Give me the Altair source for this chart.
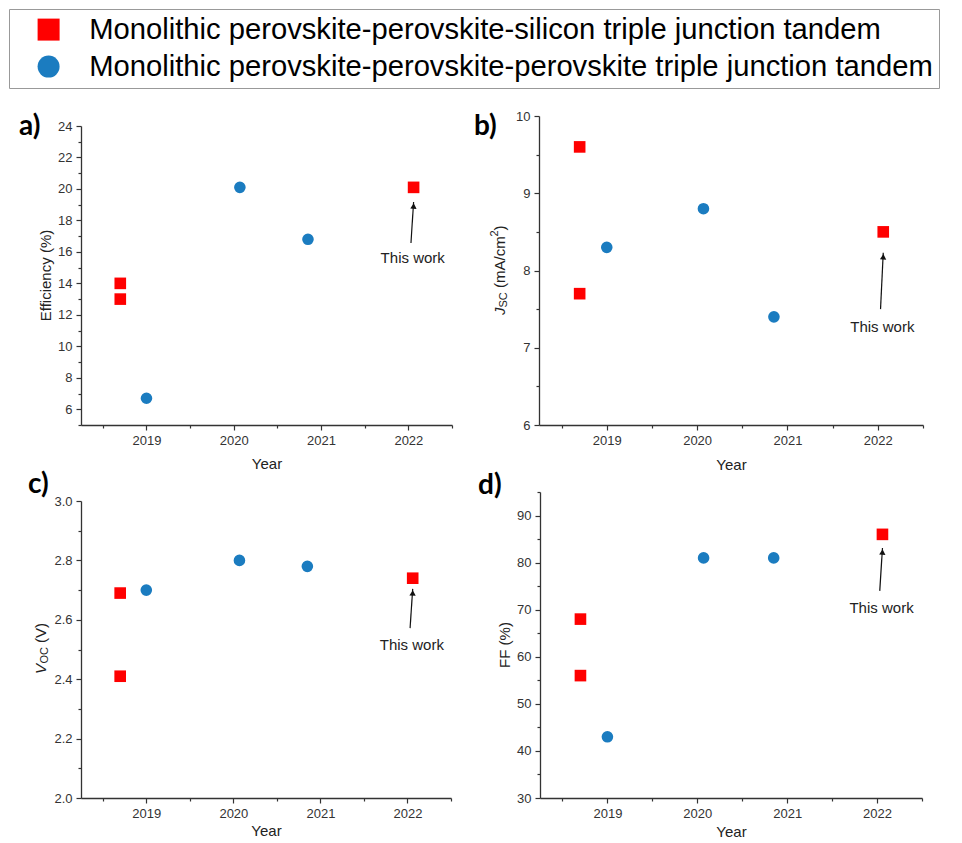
import altair as alt
import pandas as pd

# ---------------- data ----------------
series_names = [
    "Monolithic perovskite-perovskite-silicon triple junction tandem",
    "Monolithic perovskite-perovskite-perovskite triple junction tandem",
]
series_colors = ["#FF0000", "#1B7CC0"]
series_shapes = ["square", "circle"]

# perovskite-perovskite-silicon (red squares)
pps_year = [2018.7, 2018.7, 2022.06]
pps_eff = [14.0, 13.0, 20.1]
pps_jsc = [7.7, 9.6, 8.5]
pps_voc = [2.69, 2.41, 2.74]
pps_ff = [68, 56, 86]

# perovskite-perovskite-perovskite (blue circles)
ppp_year = [2019.0, 2020.07, 2020.85]
ppp_eff = [6.7, 20.1, 16.8]
ppp_jsc = [8.3, 8.8, 7.4]
ppp_voc = [2.70, 2.80, 2.78]
ppp_ff = [43, 81, 81]

metrics = ["eff", "jsc", "voc", "ff"]
panel_letters = ["a)", "b)", "c)", "d)"]

# "This work" annotation (data coordinates)
note_text = "This work"
note_year = 2022.05
note_y = [15.6, 7.27, 2.515, 70.4]
arrow_year_from = 2022.03
arrow_year_to = 2022.06
arrow_from = [16.57, 7.50, 2.572, 74.0]
arrow_to = [19.17, 8.23, 2.704, 83.1]

# axes
x_domain = [2018.25, 2022.5]
x_ticks = [2018.5, 2019, 2019.5, 2020, 2020.5, 2021, 2021.5, 2022, 2022.5]
x_step = 0.5
y_domains = [[5, 24], [6, 10], [2.0, 3.0], [30, 95]]
y_ticks = [
    [5, 6, 7, 8, 9, 10, 11, 12, 13, 14, 15, 16, 17, 18, 19, 20, 21, 22, 23, 24],
    [6, 6.5, 7, 7.5, 8, 8.5, 9, 9.5, 10],
    [2.0, 2.1, 2.2, 2.3, 2.4, 2.5, 2.6, 2.7, 2.8, 2.9, 3.0],
    [30, 35, 40, 45, 50, 55, 60, 65, 70, 75, 80, 85, 90, 95],
]
y_steps = [1, 0.5, 0.1, 5]
y_major_test = [
    "datum.value % 2 === 0",
    "datum.value % 1 === 0",
    "round(datum.value * 10) % 2 === 0",
    "datum.value % 10 === 0",
]
y_formats = ["d", "d", ".1f", "d"]

# ---------------- table ----------------
rows = []
for i in range(len(pps_year)):
    rows.append({"year": pps_year[i], "series": series_names[0], "eff": pps_eff[i],
                 "jsc": pps_jsc[i], "voc": pps_voc[i], "ff": pps_ff[i]})
for i in range(len(ppp_year)):
    rows.append({"year": ppp_year[i], "series": series_names[1], "eff": ppp_eff[i],
                 "jsc": ppp_jsc[i], "voc": ppp_voc[i], "ff": ppp_ff[i]})
df = pd.DataFrame(rows)

FONT = "Liberation Sans"

# ---------------- layout (style) ----------------
# (width, group height, top offset of the y range inside the group)
panel_sizes = [(371, 309, 10), (384, 309, 0), (370, 306, 9), (382, 306, 0)]
letter_pos = [(-62, 11), (-65, 11), (-53, -7), (-62, -6)]
year_title_pad = [9, 10, 3, 4]
# rich y titles: (text, x, y, size, italic, align)
y_title_pieces = [
    [("Efficiency (%)", -35, 159.5, 15, False, "center")],
    [("J", -39, 199, 15, True, "left"), ("SC", -35, 191.5, 11, False, "left"),
     ("(mA/cm", -39, 172, 15, False, "left"), ("2", -44, 120.5, 11, False, "left"),
     (")", -39, 114.5, 15, False, "left")],
    [("V", -40, 182, 15, True, "left"), ("OC", -36, 171.5, 11, False, "left"),
     ("(V)", -40, 151, 15, False, "left")],
    [("FF (%)", -35, 153, 15, False, "center")],
]


def tick_size(test, major=5, minor=3):
    return {"condition": {"test": test, "value": major}, "value": minor}


def panel(k):
    w, h, top = panel_sizes[k]
    metric = metrics[k]

    def X(field):
        return alt.X(
            f"{field}:Q",
            scale=alt.Scale(domain=x_domain, nice=False, zero=False),
            axis=alt.Axis(values=x_ticks, tickCount=50, tickMinStep=x_step,
                          format="d", title="Year",
                          labelExpr="datum.value % 1 === 0 ? datum.label : ''",
                          labelOverlap=False, labelFlush=False,
                          tickSize=tick_size("datum.value % 1 === 0"),
                          titlePadding=year_title_pad[k]),
        )

    def Y(field):
        return alt.Y(
            f"{field}:Q",
            scale=alt.Scale(domain=y_domains[k], nice=False, zero=False, range=[h, top]),
            axis=alt.Axis(values=y_ticks[k], tickCount=50, tickMinStep=y_steps[k],
                          format=y_formats[k], title=None,
                          labelOverlap=False,
                          labelExpr=f"{y_major_test[k]} ? datum.label : ''",
                          tickSize=tick_size(y_major_test[k])),
        )

    pts = alt.Chart(df).mark_point(filled=True, size=135, opacity=1).encode(
        x=X("year"),
        y=Y(metric),
        color=alt.Color("series:N", scale=alt.Scale(domain=series_names, range=series_colors),
                        legend=alt.Legend(title=None)),
        shape=alt.Shape("series:N", scale=alt.Scale(domain=series_names, range=series_shapes),
                        legend=alt.Legend(title=None)),
    )

    ann = pd.DataFrame({"year": [arrow_year_from], "year2": [arrow_year_to],
                        "v": [arrow_from[k]], "v2": [arrow_to[k]]})
    rule = alt.Chart(ann).mark_rule(color="#111", strokeWidth=1.2).encode(
        x=X("year"), x2="year2:Q", y=Y("v"), y2="v2:Q")
    head = alt.Chart(ann).mark_point(shape="triangle-up", filled=True, size=40,
                                     color="#111", opacity=1, yOffset=4, angle=3).encode(
        x=X("year2"), y=Y("v2"))

    note = pd.DataFrame({"year": [note_year], "v": [note_y[k]], "t": [note_text]})
    txt = alt.Chart(note).mark_text(font=FONT, fontSize=15, color="#222",
                                    baseline="middle").encode(
        x=X("year"), y=Y("v"), text="t:N")

    lx, ly = letter_pos[k]
    letter = alt.Chart(pd.DataFrame({"t": [panel_letters[k]]})).mark_text(
        font="Lato", fontWeight="bold", fontSize=28, align="left",
        baseline="middle", color="black").encode(
        x=alt.value(lx), y=alt.value(ly), text="t:N")

    layers = [pts, rule, head, txt, letter]

    for (t, px, py, size, italic, align) in y_title_pieces[k]:
        mk = alt.Chart(pd.DataFrame({"t": [t]})).mark_text(
            font=FONT, fontSize=size, angle=270, align=align,
            baseline="middle", color="#222",
            fontStyle="italic" if italic else "normal").encode(
            x=alt.value(px), y=alt.value(py), text="t:N")
        layers.append(mk)

    return alt.layer(*layers).properties(width=w, height=h)


row1 = alt.hconcat(panel(0), panel(1), spacing=21)
row2 = alt.hconcat(panel(2), panel(3), spacing=26)
chart = alt.vconcat(row1, row2, spacing=-1).properties(padding=0)

chart = chart.configure_view(stroke=None).configure_axis(
    grid=False,
    domainColor="#333",
    domainWidth=1.3,
    tickColor="#333",
    tickWidth=1.2,
    labelColor="#333",
    labelFont=FONT,
    labelFontSize=13,
    labelPadding=4,
    titleFont=FONT,
    titleFontSize=15,
    titleFontWeight="normal",
    titleColor="#222",
).configure_legend(
    orient="none",
    legendX=-72,
    legendY=-107,
    strokeColor="#999",
    fillColor="white",
    padding=6,
    labelFont=FONT,
    labelFontSize=29.2,
    labelColor="black",
    labelLimit=2000,
    symbolSize=484,
    symbolOffset=19,
    labelOffset=26,
    rowPadding=7,
    symbolStrokeWidth=0,
)

chart.save("out.html", embed_options={"renderer": "svg", "actions": False})
